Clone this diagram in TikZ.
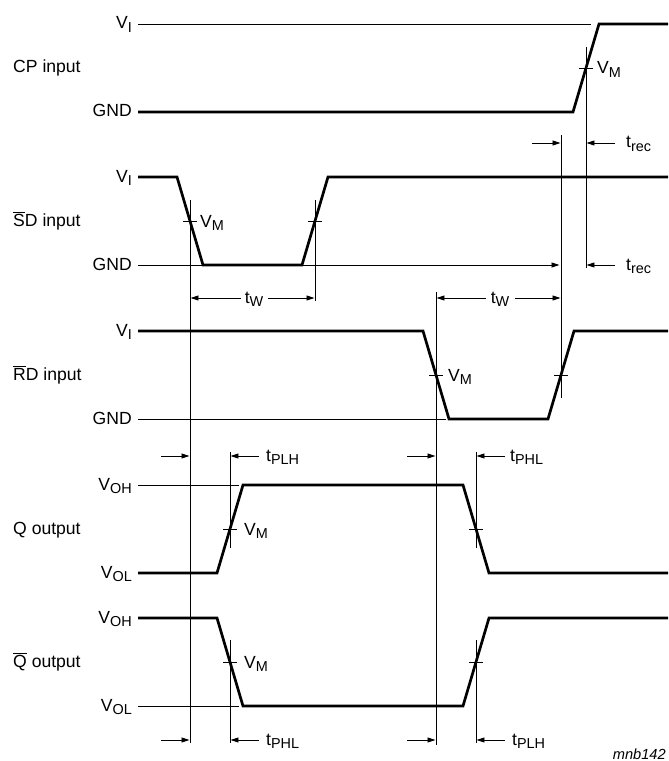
\documentclass[tikz,border=0pt]{standalone}
\usepackage{fontspec}
\setmainfont{Liberation Sans}
\usetikzlibrary{arrows.meta,calc}
\newcommand\lowsub[1]{\raisebox{-2.6pt}{\fontsize{12.3}{14}\selectfont #1}}

\begin{document}
\begin{tikzpicture}[
  x=0.03cm, y=-0.03cm,
  font=\fontsize{15}{18}\selectfont,
  wave/.style={line width=2.3pt, line join=miter},
  ref/.style={line width=0.75pt},
  dimarrow/.style={-{Triangle[length=2.4mm,width=1.5mm]}, line width=0.75pt},
  lvl/.style={anchor=base east, inner sep=0pt},
  sig/.style={anchor=base west, inner sep=0pt},
  tlabel/.style={anchor=base west, inner sep=0pt},
  twlabel/.style={anchor=base, inner sep=0pt},
  vmtick/.style={line width=0.75pt}
]
\useasboundingbox (0,0) rectangle (668,761);

% Signal names
\node[sig] (cp) at (13,73) {CP input};
\node[sig] (sd) at (13,226) {$\overline{\mbox{S}}$D input};
\node[sig] (rd) at (13,380) {$\overline{\mbox{R}}$D input};
\node[sig] (q) at (13,534) {Q output};
\node[sig] (qb) at (13,667) {$\overline{\mbox{Q}}$ output};

% Level labels
\foreach \y/\txt/\nm in {
24/V\lowsub{I}/cpH,
112/GND/cpL,
177/V\lowsub{I}/sdH,
265/GND/sdL,
331/V\lowsub{I}/rdH,
419/GND/rdL,
485/V\lowsub{OH}/qH,
573/V\lowsub{OL}/qL,
618/V\lowsub{OH}/qbH,
706/V\lowsub{OL}/qbL
}{
  \node[lvl] (\nm) at (132,\y+5) {\txt};
}

% Thin reference levels
\draw[ref] (138,24) -- (591,24);
\draw[dimarrow, shorten >=0.4pt] (138,265) -- (560,265);
\draw[ref] (138,419) -- (446,419);
\draw[ref] (138,485) -- (239,485);
\draw[ref] (138,706) -- (239,706);

% Waveforms
\draw[wave] (138,112) -- (573,112) -- (599,24) -- (668,24);
\draw[wave] (138,177) -- (177,177) -- (203,265) -- (302,265) -- (328,177) -- (668,177);
\draw[wave] (138,331) -- (423,331) -- (449,419) -- (548,419) -- (574,331) -- (668,331);
\draw[wave] (138,573) -- (217,573) -- (243,485) -- (463,485) -- (489,573) -- (668,573);
\draw[wave] (138,618) -- (217,618) -- (243,706) -- (463,706) -- (489,618) -- (668,618);

% V_M crossings
\coordinate (cpR) at (586,68);
\coordinate (sdF) at (190,221);
\coordinate (sdR) at (315,221);
\coordinate (rdF) at (436,375);
\coordinate (rdR) at (561,375);
\coordinate (qR) at (230,529);
\coordinate (qF) at (476,529);
\coordinate (qbF) at (230,662);
\coordinate (qbR) at (476,662);

\foreach \c in {cpR,sdF,sdR,rdF,rdR,qR,qF,qbF,qbR}{
  \draw[vmtick] ($(\c)+(-7,0)$) -- ($(\c)+(7,0)$);
}

\node[tlabel] (vmCP) at ($(cpR)+(11,6)$) {V\lowsub{M}};
\node[tlabel] (vmSD) at ($(sdF)+(10,6)$) {V\lowsub{M}};
\node[tlabel] (vmRD) at ($(rdF)+(12,6)$) {V\lowsub{M}};
\node[tlabel] (vmQ) at ($(qR)+(14,6)$) {V\lowsub{M}};
\node[tlabel] (vmQB) at ($(qbF)+(14,6)$) {V\lowsub{M}};

% Timing verticals
\draw[ref] (cpR |- 0,47) -- (cpR |- 0,268);
\draw[ref] (sdF |- 0,200) -- (sdF |- 0,743);
\draw[ref] (sdR |- 0,200) -- (sdR |- 0,301);
\draw[ref] (rdF |- 0,292) -- (rdF |- 0,745);
\draw[ref] (rdR |- 0,135) -- (rdR |- 0,398);
\draw[ref] (qR |- 0,452) -- (qR |- 0,548);
\draw[ref] (qF |- 0,452) -- (qF |- 0,548);
\draw[ref] (qbF |- 0,640) -- (qbF |- 0,743);
\draw[ref] (qbR |- 0,640) -- (qbR |- 0,743);

% Pulse widths
\node[twlabel] (tw1) at (254,303) {t\lowsub{W}};
\draw[dimarrow, shorten >=0.4pt] (241,298) -- (sdF |- 0,298);
\draw[dimarrow, shorten >=0.4pt] (268,298) -- (sdR |- 0,298);
\node[twlabel] (tw2) at (500,303) {t\lowsub{W}};
\draw[dimarrow, shorten >=0.4pt] (486,298) -- (rdF |- 0,298);
\draw[dimarrow, shorten >=0.4pt] (515,298) -- (rdR |- 0,298);

% Delays and recovery
\foreach \xa/\xb/\y/\dx/\txt in {
190/230/456/36/PLH,
436/476/456/34/PHL,
190/230/740/36/PHL,
436/476/740/36/PLH,
561/586/143/40/rec
}{
  \draw[dimarrow, shorten >=0.4pt] (\xa-29,\y) -- (\xa,\y);
  \draw[dimarrow, shorten >=0.4pt] (\xb+29,\y) -- (\xb,\y);
  \node[tlabel] (t-\txt-\y) at (\xb+\dx,\y+5) {t\lowsub{\txt}};
}
\draw[dimarrow, shorten >=0.4pt] (615,265) -- (cpR |- 0,265);
\node[tlabel] (trec2) at (626,270) {t\lowsub{rec}};

\node[anchor=base east, inner sep=0pt, font=\fontsize{12.5}{14}\selectfont\itshape] (code) at (666,759) {mnb142};

\end{tikzpicture}
\end{document}
